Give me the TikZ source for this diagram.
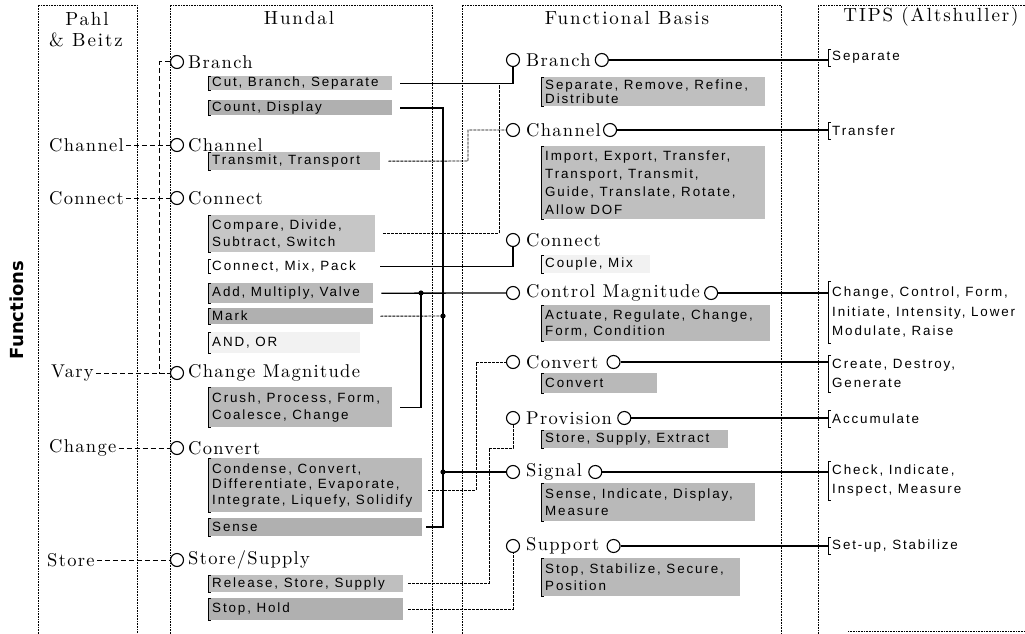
\documentclass[tikz,border=0pt]{standalone}
\usepackage{fontspec}
\setmainfont{lmroman10-regular.otf}[LetterSpace=7]
\newfontfamily\ttlfont{lmroman10-regular.otf}[LetterSpace=10]
\newfontfamily\sfb{Liberation Sans}[LetterSpace=14]
\newfontfamily\sfbold{DejaVu Sans}
\newcommand\mkbox[8]{%
 \pgfmathsetmacro\bw{#4-#2}\pgfmathsetmacro\bh{#5-#3}%
 \node[boxr, fill=#6, minimum width=\bw pt, minimum height=\bh pt] (#1) at (#2,#3) {};
 \node[boxt, font=\sfb\fontsize{13.4}{#7}\selectfont] (#1t) at ([xshift=4pt]#1.west) {#8};
 \draw[brk] ([xshift=3pt]#1.north west) -- (#1.north west) -- (#1.south west) -- ([xshift=3pt]#1.south west);
}
\begin{document}
\begin{tikzpicture}[x=1pt,y=-1pt,
 col/.style={line width=0.6pt, densely dotted},
 circ/.style={circle, draw, line width=1.1pt, minimum size=13pt, inner sep=0pt, fill=white},
 rc/.style={circ, anchor=west},
 hd/.style={anchor=west, inner sep=0pt, font=\fontsize{18.5}{21}\selectfont},
 ttl/.style={inner sep=0pt, font=\ttlfont\fontsize{19}{21}\selectfont},
 boxr/.style={rectangle, inner sep=0pt, anchor=north west, draw=none},
 boxt/.style={anchor=west, align=left, inner sep=0pt},
 brk/.style={line width=0.8pt},
 ln/.style={line width=1.3pt},
 thn/.style={line width=0.9pt, dash pattern=on 3pt off 1pt},
 dsh/.style={line width=1pt, dash pattern=on 5pt off 3pt},
]
\useasboundingbox (0,0) rectangle (1025,634);
% columns
\draw[col] (38,634) -- (38,5) -- (137,5) -- (137,634);
\draw[col] (170,634) -- (170,5) -- (432,5) -- (432,634);
\draw[col] (462,634) -- (462,5) -- (781,5) -- (781,634);
\draw[col] (1025,5) -- (818,5) -- (818,634);
\draw[col] (848,631) -- (1025,631);
% titles
\node[ttl] (tp1) at (87,19) {Pahl};
\node[ttl] (tp2) at (86,40) {\& Beitz};
\node[ttl] (th) at (299,18) {Hundal};
\node[ttl] (tf) at (627,18) {Functional Basis};
\node[ttl] (tt) at (931,17) {TIPS (Altshuller)};
\node[rotate=90, inner sep=0pt, font=\sfbold\bfseries\fontsize{18}{20}\selectfont] (fn) at (17,310) {Functions};
% Pahl & Beitz
\node[hd] (p1) at (49,145) {Channel};
\node[hd] (p2) at (49,198) {Connect};
\node[hd] (p3) at (51,373) {Vary};
\node[hd] (p4) at (49,448) {Change};
\node[hd] (p5) at (47,560) {Store};
% Hundal headings
\node[circ] (hc1) at (177,62) {};  \node[hd] (ht1) at (188,62) {Branch};
\node[circ] (hc2) at (177,145) {}; \node[hd] (ht2) at (188,145) {Channel};
\node[circ] (hc3) at (177,198) {}; \node[hd] (ht3) at (188,198) {Connect};
\node[circ] (hc4) at (177,373) {}; \node[hd] (ht4) at (188,373) {Change Magnitude};
\node[circ] (hc5) at (177,448) {}; \node[hd] (ht5) at (188,448) {Convert};
\node[circ] (hc6) at (177,560) {}; \node[hd] (ht6) at (188,560) {Store/Supply};
% Hundal boxes
\mkbox{hA}{208}{76}{392}{90}{gray!50}{14}{Cut, Branch, Separate}
\mkbox{hB}{208}{100}{392}{115}{gray!62}{14}{Count, Display}
\mkbox{hC}{208}{152}{380}{170}{gray!50}{14}{Transmit, Transport}
\mkbox{hD}{208}{215}{375}{252}{gray!45}{17}{Compare, Divide,\\Subtract, Switch}
\mkbox{hE}{208}{259}{370}{273}{none}{14}{Connect, Mix, Pack}
\mkbox{hF}{208}{283}{373}{303}{gray!55}{14}{Add, Multiply, Valve}
\mkbox{hG}{208}{308}{373}{324}{gray!62}{14}{Mark}
\mkbox{hH}{208}{332}{360}{353}{gray!10}{14}{AND, OR}
\mkbox{hI}{208}{387}{392}{427}{gray!55}{17}{Crush, Process, Form,\\Coalesce, Change}
\mkbox{hJ}{208}{458}{422}{512}{gray!55}{15.5}{Condense, Convert,\\Differentiate, Evaporate,\\Integrate, Liquefy, Solidify}
\mkbox{hK}{208}{518}{422}{536}{gray!62}{14}{Sense}
\mkbox{hL}{208}{575}{403}{592}{gray!50}{14}{Release, Store, Supply}
\mkbox{hM}{208}{598}{403}{620}{gray!62}{14}{Stop, Hold}
% Functional Basis headings
\node[circ] (fc1) at (513,60) {};  \node[hd] (ft1) at (526,60) {Branch};  \node[rc] (fr1) at ([xshift=4pt]ft1.east) {};
\node[circ] (fc2) at (513,130) {}; \node[hd] (ft2) at (526,130) {Channel}; \node[rc] (fr2) at ([xshift=2pt]ft2.east) {};
\node[circ] (fc3) at (513,240) {}; \node[hd] (ft3) at (526,240) {Connect};
\node[circ] (fc4) at (513,293) {}; \node[hd] (ft4) at (526,293) {Control Magnitude}; \node[rc] (fr4) at ([xshift=4pt]ft4.east) {};
\node[circ] (fc5) at (513,362) {}; \node[hd] (ft5) at (526,362) {Convert}; \node[rc] (fr5) at ([xshift=8pt]ft5.east) {};
\node[circ] (fc6) at (513,418) {}; \node[hd] (ft6) at (526,418) {Provision}; \node[rc] (fr6) at ([xshift=5pt]ft6.east) {};
\node[circ] (fc7) at (513,472) {}; \node[hd] (ft7) at (526,472) {Signal}; \node[rc] (fr7) at ([xshift=6pt]ft7.east) {};
\node[circ] (fc8) at (513,546) {}; \node[hd] (ft8) at (526,546) {Support}; \node[rc] (fr8) at ([xshift=7pt]ft8.east) {};
% FB boxes
\mkbox{fA}{541}{77}{765}{106}{gray!50}{14}{Separate, Remove, Refine,\\Distribute}
\mkbox{fB}{541}{146}{765}{219}{gray!50}{18}{Import, Export, Transfer,\\Transport, Transmit,\\Guide, Translate, Rotate,\\Allow DOF}
\mkbox{fC}{541}{255}{650}{273}{gray!10}{14}{Couple, Mix}
\mkbox{fD}{541}{305}{770}{341}{gray!55}{16}{Actuate, Regulate, Change,\\Form, Condition}
\mkbox{fE}{541}{373}{657}{393}{gray!55}{14}{Convert}
\mkbox{fF}{541}{430}{728}{448}{gray!55}{14}{Store, Supply, Extract}
\mkbox{fG}{541}{483}{755}{521}{gray!55}{17}{Sense, Indicate, Display,\\Measure}
\mkbox{fH}{541}{558}{740}{596}{gray!55}{17}{Stop, Stabilize, Secure,\\Position}
% TIPS
\mkbox{tA}{828}{49}{1000}{66}{none}{14}{Separate}
\mkbox{tB}{828}{122}{1000}{139}{none}{14}{Transfer}
\mkbox{tC}{828}{281}{1022}{343}{none}{19.5}{Change, Control, Form,\\Initiate, Intensity, Lower\\Modulate, Raise}
\mkbox{tD}{828}{355}{1000}{392}{none}{19}{Create, Destroy,\\Generate}
\mkbox{tE}{828}{410}{1000}{427}{none}{14}{Accumulate}
\mkbox{tF}{828}{461}{1000}{500}{none}{18.5}{Check, Indicate,\\Inspect, Measure}
\mkbox{tG}{828}{537}{1000}{554}{none}{14}{Set-up, Stabilize}
% dashed Pahl & Beitz links
\draw[dsh] (hc1.west) -- ++(-10,0) |- (hc4.west);
\draw[dsh] ([xshift=2pt]p1.east) -- (hc2.west);
\draw[dsh] ([xshift=2pt]p2.east) -- (hc3.west);
\draw[dsh] ([xshift=2pt]p3.east) -- (hc4.west);
\draw[dsh] ([xshift=2pt]p4.east) -- (hc5.west);
\draw[dsh] ([xshift=2pt]p5.east) -- (hc6.west);
% Hundal -> Functional Basis
\coordinate (jc) at (468,161);
\coordinate (jd) at (499,85);
\coordinate (j1) at (443,316);
\coordinate (j2) at (443,472);
\coordinate (j3) at (421,293);
\coordinate (jj) at (476,490);
\coordinate (jl) at (489,448);
\draw[ln] ([xshift=8pt]hA.east) -| (fc1.south);
\draw[ln, line width=1.6pt] ([xshift=8pt]hB.east) -| (j1) -- (j2) |- ([xshift=4pt]hK.east);
\draw[thn] ([xshift=8pt]hC.east) -- (jc) |- (fc2.west);
\draw[thn] ([xshift=8pt]hD.east) -| (jd);
\draw[ln] ([xshift=10pt]hE.east) -| (fc3.south);
\draw[ln] ([xshift=8pt]hF.east) -- (fc4.west);
\draw[ln] (j3) |- ([xshift=8pt]hI.east);
\draw[thn] ([xshift=7pt]hG.east) -- (j1);
\draw[ln] (j2) -- (fc7.west);
\draw[thn] ([xshift=6pt]hJ.east |- jj) -- (jj) |- (fc5.west);
\draw[thn] ([xshift=5pt]hL.east) -| (jl) -| (fc6.south);
\draw[thn] ([xshift=5pt]hM.east) -| (fc8.south);
\fill (j1) circle (2.6pt);
\fill (j2) circle (2.6pt);
\fill (j3) circle (2.6pt);
% Functional Basis -> TIPS
\draw[ln] (fr1.east) -- (fr1.east -| tA.west);
\draw[ln] (fr2.east) -- (fr2.east -| tB.west);
\draw[ln] (fr4.east) -- (fr4.east -| tC.west);
\draw[ln] (fr5.east) -- (fr5.east -| tD.west);
\draw[ln] (fr6.east) -- (fr6.east -| tE.west);
\draw[ln] (fr7.east) -- (fr7.east -| tF.west);
\draw[ln] (fr8.east) -- (fr8.east -| tG.west);
\end{tikzpicture}
\end{document}
